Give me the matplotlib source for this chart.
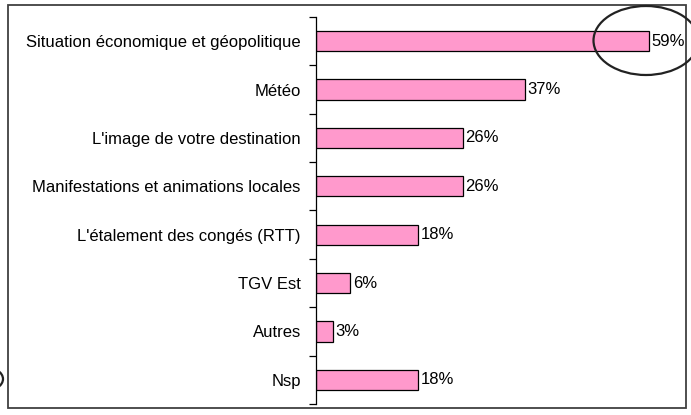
import numpy as np
import matplotlib.pyplot as plt
from matplotlib.patches import Ellipse, Rectangle

plt.rcParams['font.family'] = ['Liberation Sans', 'DejaVu Sans']

#Data
labels = ["Situation économique et géopolitique", "Météo", "L'image de votre destination",
          "Manifestations et animations locales", "L'étalement des congés (RTT)",
          "TGV Est", "Autres", "Nsp"]
values = [59, 37, 26, 26, 18, 6, 3, 18]

W, H = 691, 415
fig = plt.figure(figsize=(W/100, H/100), dpi=100)
ax = fig.add_axes([316/W, 1-404/H, (680-316)/W, (404-17)/H])

y = np.arange(len(labels))
ax.barh(y, values, height=0.42, color='#FF99CC', edgecolor='black', linewidth=0.9)
for yi, v in zip(y, values):
    ax.text(v + 0.5, yi, f"{v}%", va='center', ha='left', fontsize=12)

ax.set_ylim(len(labels) - 0.5, -0.5)
ax.set_xlim(0, 64.5)
ax.set_yticks(y)
ax.set_yticklabels(labels, fontsize=12)
ax.set_yticks(np.arange(-0.5, len(labels), 1), minor=True)
ax.tick_params(axis='y', which='major', length=0, pad=11)
ax.tick_params(axis='y', which='minor', length=5, width=0.9, direction='out')
ax.set_xticks([])
for s in ['top', 'right', 'bottom']:
    ax.spines[s].set_visible(False)
ax.spines['left'].set_linewidth(0.9)

#frame and circles
fig.add_artist(Rectangle((8/W, 1-408/H), (686-8)/W, (408-5)/H, transform=fig.transFigure,
                         fill=False, edgecolor='#404040', linewidth=1.3))
fig.add_artist(Ellipse((646/W, 1-40.5/H), 105/W, 69/H, transform=fig.transFigure,
                       fill=False, edgecolor='#222222', linewidth=1.6))
fig.add_artist(Ellipse((-15/W, 1-379/H), 36/W, 24/H, transform=fig.transFigure,
                       fill=False, edgecolor='#222222', linewidth=1.6))

fig.savefig('out.png', dpi=100)
